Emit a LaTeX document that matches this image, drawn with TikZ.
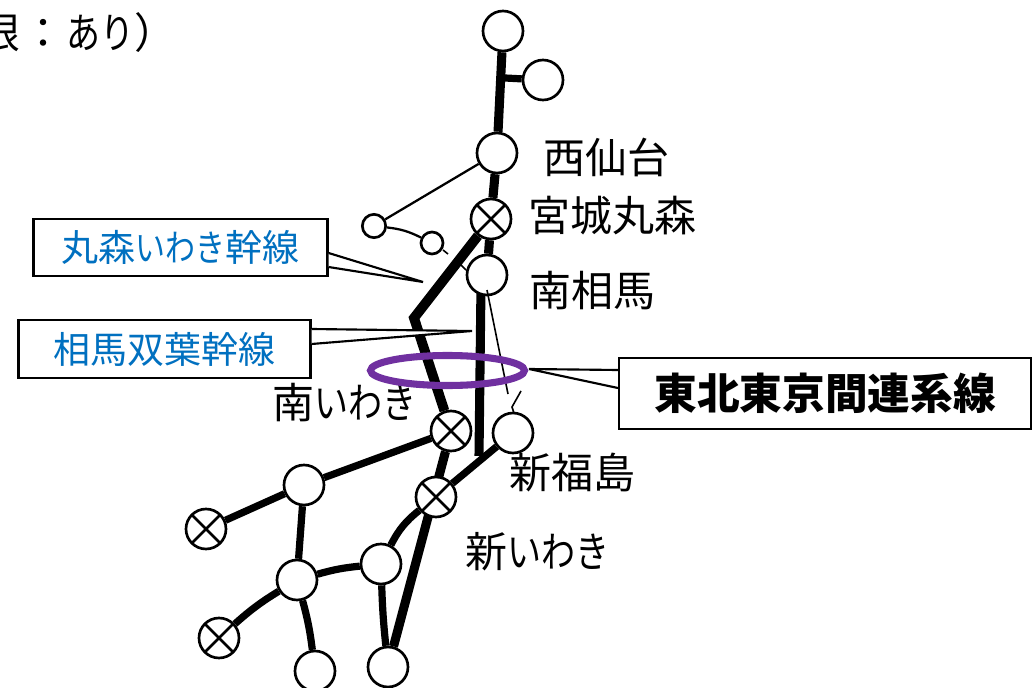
\documentclass[tikz,border=0pt]{standalone}
\usepackage{fontspec}
\setmainfont{Noto Sans CJK JP}
\usetikzlibrary{backgrounds}
\newcommand{\kn}[1]{\scalebox{0.81}[1]{#1}}
\definecolor{lineblue}{HTML}{0070C0}
\definecolor{ringpurple}{HTML}{7030A0}
\tikzset{
  x=0.75pt,y=-0.75pt,
  stn/.style={circle,draw=black,fill=white,line width=2pt,inner sep=0pt,minimum size=30pt},
  small/.style={stn,minimum size=17.5pt},
  xstn/.style={stn,path picture={
    \draw[line width=2pt] (path picture bounding box.north west)--(path picture bounding box.south east)
      (path picture bounding box.north east)--(path picture bounding box.south west);}},
  trunk/.style={line width=6.8pt,draw=black,miter limit=10},
  branch/.style={line width=5.4pt,draw=black},
  thin/.style={line width=1.7pt,draw=black},
  leader/.style={line width=1.2pt,draw=black},
  lab/.style={inner sep=0pt,font=\fontsize{31.5pt}{36pt}\selectfont},
  box/.style={draw=black,fill=white,line width=1.6pt,inner sep=0pt,font=\fontsize{27.75pt}{32pt}\selectfont},
  tailfill/.style={fill=white,draw=none},
  tail/.style={draw=black,line width=1.6pt,line join=miter},
}
\begin{document}
\begin{tikzpicture}
\useasboundingbox (0,0) rectangle (1035,688);
\node[lab,anchor=west] (toptext) at (-22,33) {限\kern2pt：\kern1pt\kn{あり}）};
% stations
\node[stn] (a) at (503,31) {};
\node[stn] (b) at (543,80) {};
\node[stn] (nishi) at (497,153) {};
\node[xstn] (miyagi) at (491,219) {};
\node[stn] (minami) at (487,275) {};
\node[small] (s1) at (374,226) {};
\node[small,minimum size=16.5pt] (s2) at (432,243) {};
\node[xstn] (iwakis) at (451,431) {};
\node[stn] (fuku) at (513,433) {};
\node[xstn] (iwakin) at (436,497) {};
\node[stn] (c) at (304,485) {};
\node[xstn] (d) at (206,529) {};
\node[stn] (e) at (297,580) {};
\node[stn] (f) at (381,564) {};
\node[xstn] (g) at (219,638) {};
\node[stn] (h) at (315,671) {};
\node[stn] (i) at (388,667) {};
\coordinate (bj) at (505,78);
\coordinate (bend) at (414,318);
\coordinate (vstart) at (481,285);
\coordinate (vend) at (479,456);
\coordinate (l1) at (443,250);
\coordinate (l2) at (448,254);
\coordinate (l3) at (459,263);
\coordinate (l4) at (466,270);
\coordinate (m1) at (487,290);
\coordinate (m2) at (508,394);
\coordinate (n1) at (521,391);
\coordinate (n2) at (512,407);
\coordinate (n3) at (514,413);
\begin{scope}[on background layer]
\fill[white] (0,0) rectangle (1035,688);
\draw[trunk] (a)--(nishi)--(miyagi)--(minami);
\draw[branch] (bj)--(b);
\draw[line width=7.4pt,line cap=butt,line join=miter,miter limit=10] (miyagi)--(bend)--(iwakis);
\draw[line width=6.8pt] (vstart)--(vend);
\draw[branch] (fuku)--(iwakin);
\draw[trunk] (iwakis)--(i);
\draw[branch] (iwakis)--(c)--(d);
\draw[branch] (c)--(e);
\draw[branch] (e) to[bend left=4] (h);
\draw[branch] (e) to[bend left=5] (f);
\draw[branch] (f) to[bend left=12] (iwakin);
\draw[branch] (f) to[bend right=2] (i);
\draw[branch] (e) to[bend right=5] (g);
\draw[thin] (nishi)--(s1);
\draw[thin] (s1) to[bend left=10] (s2);
\end{scope}
\draw[leader] (l1)--(l2) (l3)--(l4);
\draw[leader] (m1)--(m2);
\draw[leader] (n1)--(n2)--(n3);
% labels
\node[lab,anchor=west] (t1) at (543,157) {西仙台};
\node[lab,anchor=west] (t2) at (528,216) {宮城丸森};
\node[lab,anchor=west] (t3) at (529,291) {南相馬};
\node[lab,anchor=west] (t4) at (272,403) {南\kn{いわき}};
\node[lab,anchor=west] (t5) at (509,473) {新福島};
\node[lab,anchor=west] (t6) at (465,552) {新\kn{いわき}};
% callouts
\node[box,text=lineblue,minimum width=220.5pt,minimum height=42.75pt] (b1) at (180.5,247.5) {丸森\kn{いわき}幹線};
\node[box,text=lineblue,minimum width=219pt,minimum height=43.5pt] (b2) at (164.5,349) {相馬双葉幹線};
\node[box,font=\fontsize{32pt}{36pt}\selectfont\bfseries,minimum width=309pt,minimum height=53pt] (b3) at (825,393.5) {東北東京間連系線};
\coordinate (tip1) at (423,282);
\coordinate (tip2) at (472,331);
\coordinate (tip3) at (529,369);
\coordinate (a1) at (b1.east |- 0,253);
\coordinate (a2) at (b1.east |- 0,267);
\coordinate (a3) at (b2.east |- 0,329);
\coordinate (a4) at (b2.east |- 0,344);
\coordinate (a5) at (b3.west |- 0,370);
\coordinate (a6) at (b3.west |- 0,388);
\fill[tailfill] (a1)--(tip1)--(a2)--cycle;
\fill[tailfill] (a3)--(tip2)--(a4)--cycle;
\fill[tailfill] (a5)--(tip3)--(a6)--cycle;
\draw[tail] (a1)--(tip1)--(a2);
\draw[tail] (a3)--(tip2)--(a4);
\draw[tail] (a5)--(tip3)--(a6);
\draw[ringpurple,line width=5.3pt] (447.5,370.5) ellipse [x radius=77,y radius=15];
\end{tikzpicture}
\end{document}
